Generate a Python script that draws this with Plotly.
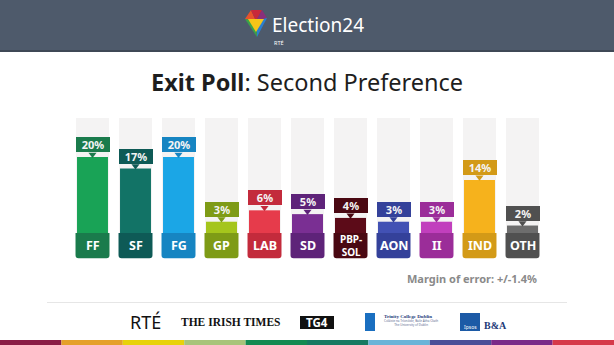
import plotly.graph_objects as go

# ---------------- data ----------------
parties = ["FF", "SF", "FG", "GP", "LAB", "SD", "PBP-SOL", "AON", "II", "IND", "OTH"]
party_labels = ["FF", "SF", "FG", "GP", "LAB", "SD", "PBP-<br>SOL", "AON", "II", "IND", "OTH"]
values = [20, 17, 20, 3, 6, 5, 4, 3, 3, 14, 2]
bar_colors = ["#19a356", "#127366", "#1ba6e6", "#a5c51c", "#e63b4b", "#7a2f93",
              "#5c0b18", "#4251b4", "#c13fbd", "#f6b21c", "#6d6d6d"]
dark_colors = ["#1a7b4c", "#0e5a56", "#1685c2", "#7e9b16", "#c32b3c", "#5e2379",
               "#4a0812", "#34419a", "#9b2d99", "#d39a17", "#505050"]
scale_max = 30.3          # height of grey background columns (%)
label_depth = 6.6         # depth of party-name boxes below zero (%)
title_bold = "Exit Poll"
title_rest = ": Second Preference"
moe_text = "Margin of error: +/-1.4%"
stripe_colors = ["#8a1c45", "#e5a02a", "#e8d20a", "#a8c47a", "#138a52",
                 "#167a62", "#6ab4d8", "#4a4f98", "#7a2a88", "#d63a4a"]

# ---------------- geometry helpers ----------------
W, H = 614, 345
L, R, T, B = 71, 70, 110, 83
PW, PH = W - L - R, H - T - B
PX_PER_UNIT = PH / 40.0
FONT = "Noto Sans"


def X(p):
    return (p - L) / PW


def Y(p):
    return (H - B - p) / PH


fig = go.Figure()

# grey background columns
fig.add_trace(go.Bar(x=parties, y=[scale_max] * len(parties), width=0.767,
                     marker=dict(color="#f4f3f3", line=dict(width=0)),
                     hoverinfo="skip", showlegend=False))
# value bars
fig.add_trace(go.Bar(x=parties, y=values, width=0.72,
                     marker=dict(color=bar_colors, line=dict(width=0)),
                     showlegend=False))
# party name boxes
fig.add_trace(go.Bar(x=parties, y=[-label_depth] * len(parties), width=0.79,
                     marker=dict(color=dark_colors, line=dict(width=0), cornerradius=3),
                     hoverinfo="skip", showlegend=False))
# pointers under value boxes
fig.add_trace(go.Scatter(x=parties, y=[v + 2.6 / PX_PER_UNIT for v in values],
                         mode="markers",
                         marker=dict(symbol="triangle-down", size=7, color=dark_colors,
                                     line=dict(width=0)),
                         hoverinfo="skip", showlegend=False))

annotations = []
for p, v, c in zip(parties, values, dark_colors):
    annotations.append(dict(x=p, y=v, xref="x", yref="y", yanchor="bottom",
                            yshift=5, text=f"<b>{v}%</b>", showarrow=False,
                            bgcolor=c, width=34, height=15, borderpad=0, borderwidth=0,
                            font=dict(family=FONT, size=11, color="#f4f4f4")))
for p, lab in zip(parties, party_labels):
    two = "<br>" in lab
    annotations.append(dict(x=p, y=-label_depth / 2, xref="x", yref="y",
                            text=f"<b>{lab}</b>", showarrow=False,
                            font=dict(family=FONT, size=10 if two else 12.5, color="white"),
                            yanchor="middle"))

# title
annotations.append(dict(x=X(307), y=Y(82), xref="paper", yref="paper",
                        text=f"<b>{title_bold}</b>{title_rest}", showarrow=False,
                        xanchor="center", yanchor="middle",
                        font=dict(family=FONT, size=23.5, color="#1e1e1e")))
# margin of error
annotations.append(dict(x=X(539), y=Y(278), xref="paper", yref="paper",
                        text=f"<b>{moe_text}</b>", showarrow=False,
                        xanchor="right", yanchor="middle",
                        font=dict(family=FONT, size=11, color="#8a8a8a")))
# header texts
annotations.append(dict(x=X(270), y=Y(25), xref="paper", yref="paper",
                        text="Election24", showarrow=False, xanchor="left", yanchor="middle",
                        font=dict(family=FONT, size=19, color="white")))
annotations.append(dict(x=X(272), y=Y(43), xref="paper", yref="paper",
                        text="RTÉ", showarrow=False, xanchor="left", yanchor="middle",
                        font=dict(family=FONT, size=5.5, color="white")))
# footer logos
annotations.append(dict(x=X(128), y=Y(322), xref="paper", yref="paper",
                        text="RTÉ", showarrow=False, xanchor="left", yanchor="middle",
                        font=dict(family=FONT, size=18, color="#111")))
annotations.append(dict(x=X(179), y=Y(322), xref="paper", yref="paper",
                        text="<b>THE IRISH TIMES</b>", showarrow=False, xanchor="left",
                        yanchor="middle",
                        font=dict(family="Liberation Serif", size=11.5, color="#111")))
annotations.append(dict(x=X(317), y=Y(322.5), xref="paper", yref="paper",
                        text="<b>TG4</b>", showarrow=False, xanchor="center", yanchor="middle",
                        font=dict(family=FONT, size=11.5, color="white")))
annotations.append(dict(x=X(382), y=Y(316), xref="paper", yref="paper",
                        text="<b>Trinity College Dublin</b>", showarrow=False, xanchor="left",
                        yanchor="middle",
                        font=dict(family="Liberation Serif", size=5, color="#1d3a78")))
annotations.append(dict(x=X(382), y=Y(322), xref="paper", yref="paper",
                        text="Coláiste na Tríonóide, Baile Átha Cliath<br>The University of Dublin",
                        showarrow=False, xanchor="left", yanchor="middle",
                        font=dict(family=FONT, size=3, color="#5a6a90")))
annotations.append(dict(x=X(470), y=Y(327), xref="paper", yref="paper",
                        text="Ipsos", showarrow=False, xanchor="center", yanchor="middle",
                        font=dict(family=FONT, size=5, color="white")))
annotations.append(dict(x=X(482), y=Y(325), xref="paper", yref="paper",
                        text="<b>B&amp;A</b>", showarrow=False, xanchor="left", yanchor="middle",
                        font=dict(family="Liberation Serif", size=10, color="#1d3a78")))

shapes = []
# header band
shapes.append(dict(type="rect", xref="paper", yref="paper", x0=X(0), x1=X(W), y0=Y(0), y1=Y(51),
                   fillcolor="#4e5a6b", line=dict(width=0), layer="below"))
shapes.append(dict(type="rect", xref="paper", yref="paper", x0=X(0), x1=X(W), y0=Y(50), y1=Y(52),
                   fillcolor="#3f4856", line=dict(width=0), layer="below"))


def poly(pts, color):
    d = "M " + " L ".join(f"{X(a):.5f},{Y(b):.5f}" for a, b in pts) + " Z"
    return dict(type="path", xref="paper", yref="paper", path=d, fillcolor=color,
                line=dict(width=0))


C = (256, 21)
shapes.append(poly([(245, 19), (251, 10), C], "#e8532c"))
shapes.append(poly([(251, 10), (262, 10), C], "#c8283a"))
shapes.append(poly([(262, 10), (267, 18), C], "#8a2f7a"))
shapes.append(poly([(267, 18), (257, 37), C], "#2a7fd0"))
shapes.append(poly([(257, 37), (245, 19), C], "#3aa34a"))
shapes.append(poly([(248, 19), (264, 19), (256, 32)], "#f5c518"))

# separator line
shapes.append(dict(type="line", xref="paper", yref="paper", x0=X(47), x1=X(567), y0=Y(302.5),
                   y1=Y(302.5), line=dict(color="#e6e6e6", width=1)))
# TG4 box
shapes.append(dict(type="rect", xref="paper", yref="paper", x0=X(300), x1=X(334), y0=Y(316),
                   y1=Y(329), fillcolor="#111", line=dict(width=0)))
# Trinity shield
shapes.append(dict(type="rect", xref="paper", yref="paper", x0=X(365), x1=X(375), y0=Y(313),
                   y1=Y(331), fillcolor="#1a6fc0", line=dict(width=0)))
# Ipsos box
shapes.append(dict(type="rect", xref="paper", yref="paper", x0=X(460), x1=X(480), y0=Y(313),
                   y1=Y(331), fillcolor="#1c5aa6", line=dict(width=0)))
# bottom stripe
seg = W / len(stripe_colors)
for i, c in enumerate(stripe_colors):
    shapes.append(dict(type="rect", xref="paper", yref="paper", x0=X(i * seg), x1=X((i + 1) * seg),
                       y0=Y(340), y1=Y(H), fillcolor=c, line=dict(width=0)))

fig.update_layout(
    width=W, height=H,
    margin=dict(l=L, r=R, t=T, b=B, pad=0),
    paper_bgcolor="white", plot_bgcolor="white",
    barmode="overlay", bargap=0.2,
    xaxis=dict(type="category", range=[-0.5, len(parties) - 0.5], showticklabels=False,
               showgrid=False, zeroline=False, showline=False, fixedrange=True),
    yaxis=dict(range=[-7.6, 32.4], showticklabels=False, showgrid=False, zeroline=False,
               showline=False, fixedrange=True),
    annotations=annotations,
    shapes=shapes,
    showlegend=False,
    font=dict(family=FONT),
)

fig.write_html("out.html")
